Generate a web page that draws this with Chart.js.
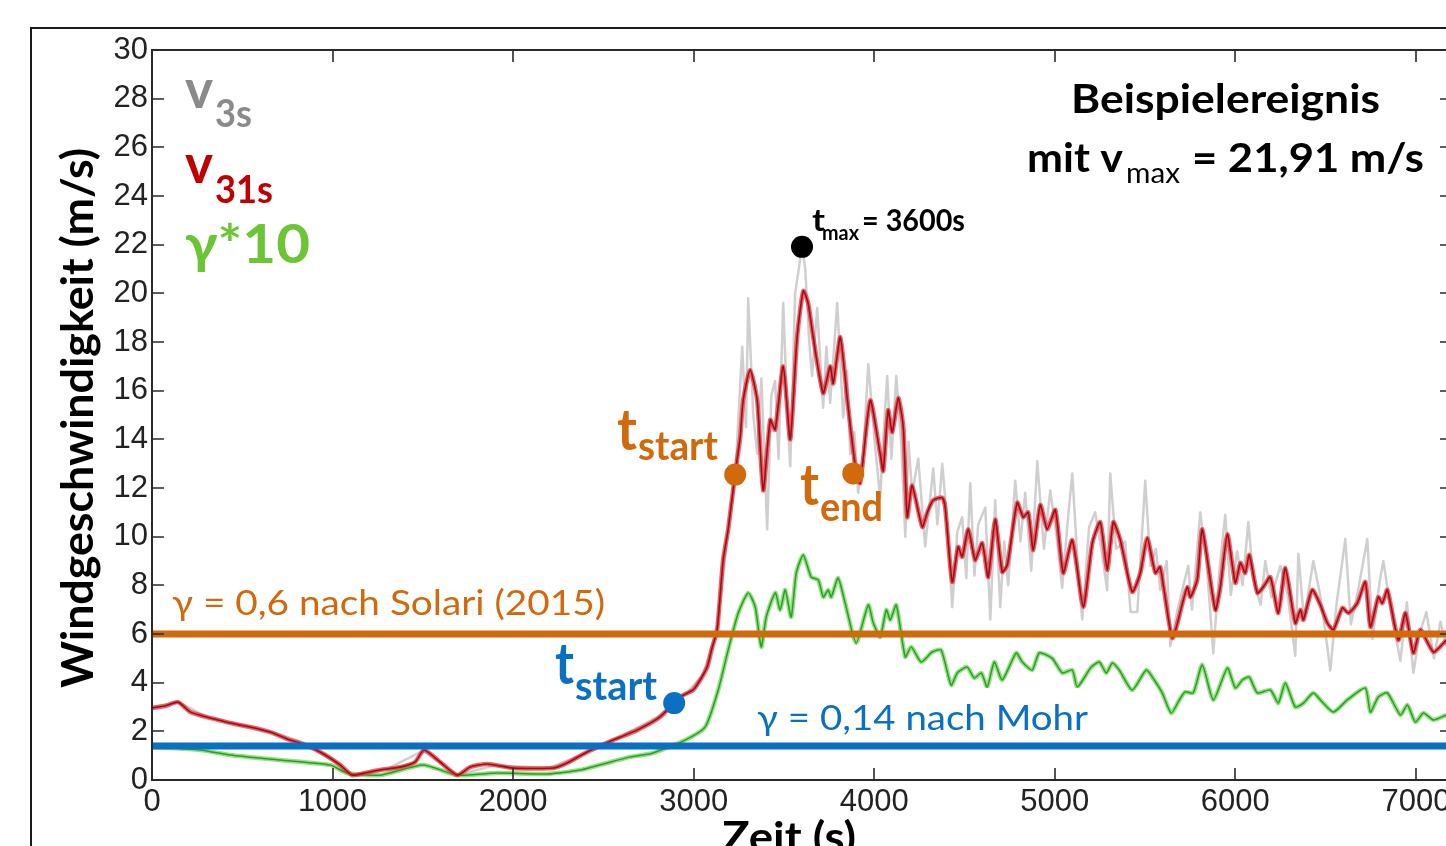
<!DOCTYPE html>
<html>
<head>
<meta charset="utf-8">
<script src="https://cdn.jsdelivr.net/npm/chart.js@4.4.1/dist/chart.umd.min.js"></script>
<style>
  html, body { margin: 0; padding: 0; background: #fff; overflow: hidden; }
  #wrap { position: relative; width: 1480px; height: 880px; }
</style>
</head>
<body>
<div id="wrap"><canvas id="windChart" width="1480" height="880"></canvas></div>
<script>
// ---- data ----
// v31s (red, 31 s mean)
const redTime = [0,72,144,211,321,460,543,654,765,820,931,1042,1108,1180,1263,1374,1457,1507,1596,1690,1762,1856,2000,2222,2299,2410,2554,2687,2814,2925,2997,3036,3075,3102,3130,3163,3191,3230,3258,3274,3313,3352,3385,3424,3451,3496,3535,3573,3607,3634,3662,3717,3756,3773,3812,3850,3895,3922,3978,4033,4050,4077,4100,4133,4161,4183,4210,4266,4294,4327,4377,4393,4432,4465,4487,4521,4559,4598,4631,4670,4709,4737,4792,4825,4853,4881,4920,4958,5003,5047,5097,5158,5208,5252,5291,5324,5363,5429,5474,5512,5557,5584,5651,5712,5734,5751,5789,5817,5889,5917,5956,6000,6028,6055,6077,6122,6155,6194,6238,6277,6332,6360,6377,6426,6471,6510,6543,6593,6626,6676,6720,6748,6792,6814,6842,6903,6942,6986,7025,7097,7169];
const redSpeed = [2.96,3.04,3.2,2.8,2.55,2.3,2.18,1.97,1.64,1.52,1.15,0.62,0.2,0.29,0.41,0.53,0.74,1.23,0.74,0.2,0.53,0.66,0.49,0.49,0.7,1.15,1.64,2.05,2.59,3.41,3.7,4.11,4.64,5.43,6.17,9.04,10.3,12.6,14.1,15.6,16.85,15.6,11.9,14.8,14.4,17.0,14.0,18.2,20.1,19.6,18.2,15.9,17.0,16.3,18.2,15.7,12.9,12.2,15.6,13.4,12.7,15.2,14.3,15.7,14.5,10.8,12.1,10.4,11.0,11.5,11.6,11.2,8.14,9.58,9.17,10.3,9.04,9.74,8.34,10.7,8.55,8.84,11.4,10.8,11.0,9.45,11.3,10.3,11.1,8.51,9.86,7.11,9.74,10.6,8.63,10.6,9.86,7.73,8.51,9.95,8.51,8.75,5.84,7.4,7.93,7.52,8.22,10.3,6.99,7.93,10.1,8.1,8.92,8.51,9.25,7.69,7.93,8.34,6.86,8.71,6.45,6.99,6.58,7.81,7.19,6.45,6.17,7.07,6.86,7.27,8.14,6.29,7.52,7.27,7.81,5.75,6.86,5.22,6.17,5.26,5.75];

// gamma * 10 (green)
const greenTime = [0,265,433,710,987,1080,1263,1501,1690,1911,2188,2371,2648,2770,2953,3064,3136,3191,3247,3302,3341,3374,3402,3452,3479,3507,3540,3568,3607,3651,3690,3718,3745,3762,3800,3839,3900,3967,3995,4033,4067,4089,4122,4172,4205,4260,4321,4371,4426,4460,4515,4554,4593,4626,4665,4709,4786,4820,4875,4914,4986,5042,5097,5125,5202,5247,5285,5319,5357,5429,5507,5551,5595,5645,5690,5722,5767,5817,5878,5956,6000,6039,6077,6122,6194,6238,6277,6332,6377,6432,6482,6543,6620,6720,6748,6792,6842,6914,6953,6997,7042,7097,7169];
const greenGamma = [1.36,1.23,1.03,0.82,0.62,0.29,0.2,0.62,0.2,0.29,0.25,0.41,0.95,1.1,1.64,2.18,3.7,5.34,6.86,7.69,7.11,5.47,6.7,7.69,6.99,7.81,6.7,8.5,9.25,8.34,8.22,7.52,7.81,7.52,8.3,7.27,5.63,7.19,6.45,5.88,6.99,6.58,7.19,5.06,5.47,4.85,5.26,5.34,3.9,4.4,4.64,4.19,4.4,3.82,4.85,4.11,5.22,4.85,4.52,5.22,5.0,4.4,4.52,3.82,4.64,4.85,4.4,4.81,4.52,3.7,4.52,4.11,3.58,2.75,3.29,3.62,3.58,4.73,3.29,4.6,3.78,4.11,4.23,3.58,3.7,3.16,3.99,3.0,3.16,3.58,3.2,2.79,3.29,3.78,2.79,3.41,3.58,2.67,3.08,2.38,2.75,2.47,2.67];

// v3s (grey, 3 s gusts)
const grayTime = [0,150,300,500,700,850,1000,1100,1300,1500,1690,1900,2200,2400,2600,2800,2950,3050,3130,3190,3230,3269,3290,3302,3330,3352,3375,3407,3430,3451,3470,3496,3520,3535,3562,3590,3601,3618,3640,3656,3684,3717,3735,3756,3795,3828,3850,3867,3890,3911,3940,3967,4005,4033,4050,4072,4095,4122,4150,4172,4190,4210,4244,4282,4327,4350,4377,4404,4432,4460,4487,4510,4532,4555,4576,4615,4643,4670,4698,4720,4742,4781,4810,4836,4870,4903,4940,4975,5010,5041,5070,5097,5130,5152,5190,5224,5260,5290,5307,5340,5390,5420,5457,5501,5530,5560,5584,5620,5640,5680,5739,5760,5806,5840,5878,5910,5944,5975,6010,6040,6072,6100,6140,6166,6200,6249,6290,6332,6349,6380,6432,6470,6500,6526,6560,6609,6640,6680,6731,6760,6800,6820,6860,6914,6950,6986,7020,7058,7100,7136,7169];
const graySpeed = [3.0,3.2,2.6,2.25,1.9,1.5,0.8,0.2,0.45,1.2,0.2,0.6,0.5,1.1,1.8,2.6,3.5,4.3,6.2,10.2,12.4,17.8,14.5,19.8,15.0,13.4,16.5,10.3,15.8,16.4,13.2,19.6,14.8,12.9,20.0,21.4,21.91,21.0,18.0,16.6,19.4,15.3,17.8,15.5,19.6,14.9,16.8,13.4,14.3,11.8,13.5,17.1,13.7,11.6,14.0,16.6,13.2,16.6,13.8,10.0,13.9,11.8,13.2,9.6,12.8,10.5,13.0,10.6,7.1,10.2,10.8,8.3,12.2,8.4,10.5,11.2,6.6,11.5,7.1,9.8,8.0,12.3,9.8,11.8,8.6,13.1,9.5,11.9,10.0,7.9,10.5,12.6,8.5,6.6,10.4,11.0,9.4,7.8,12.6,9.5,9.8,6.9,6.9,12.3,8.8,9.5,7.8,9.0,5.5,7.0,8.8,7.0,11.0,9.0,5.2,8.5,10.9,7.6,9.4,8.0,10.6,8.2,7.2,9.0,7.5,8.8,7.6,5.1,9.3,6.6,9.0,7.6,6.0,4.5,7.2,9.9,6.4,7.8,9.9,5.8,8.2,9.0,7.0,4.9,7.3,4.4,6.0,6.9,5.0,6.5,5.5];

// thresholds (gamma*10) and event markers
const solariLevel = [6, 6];
const mohrLevel = [1.4, 1.4];
const levelTime = [0, 7200];
const markerTime = [3600, 3230, 3884, 2892];
const markerSpeed = [21.91, 12.55, 12.6, 3.16];
const markerColor = ['#000000', '#d06a0c', '#d06a0c', '#0a70c2'];

const xMin = 0, xMax = 7200;
const xTickValues = [0, 1000, 2000, 3000, 4000, 5000, 6000, 7000];
const yMin = 0, yMax = 30, yStep = 2;

function zip(xs, ys) { return xs.map((x, i) => ({ x: x, y: ys[i] })); }

const FONT = 'Lato, "Open Sans", sans-serif';

// draw a text squeezed to a given width (Calibri-like proportions)
function fitText(ctx, text, x, y, width, font, color) {
  ctx.save();
  ctx.font = font;
  ctx.fillStyle = color;
  ctx.textAlign = 'left';
  ctx.textBaseline = 'alphabetic';
  const w = ctx.measureText(text).width;
  ctx.translate(x, y);
  ctx.scale(width / w, 1);
  ctx.fillText(text, 0, 0);
  ctx.restore();
}

const labels = {
  id: 'labels',
  afterDatasetsDraw(chart) {
    const ctx = chart.ctx;
    const gray = '#8a8a8a', red = '#c00000', green = '#6cc534', orange = '#d06a0c', blue = '#0a70c2';

    fitText(ctx, 'v', 185, 108, 28, 'bold 54px ' + FONT, gray);
    fitText(ctx, '3s', 215, 127, 37, 'bold 38px ' + FONT, gray);
    fitText(ctx, 'v', 185, 183, 28, 'bold 54px ' + FONT, red);
    fitText(ctx, '31s', 215, 203, 58, 'bold 38px ' + FONT, red);
    fitText(ctx, 'γ*10', 185, 263, 125, 'bold 54px ' + FONT, green);

    fitText(ctx, 'Beispielereignis', 1071, 113, 309, 'bold 40px ' + FONT, '#000');
    fitText(ctx, 'mit v', 1027, 172, 96, 'bold 40px ' + FONT, '#000');
    fitText(ctx, 'max', 1126, 183, 54, '28px ' + FONT, '#000');
    fitText(ctx, '= 21,91 m/s', 1192, 172, 232, 'bold 40px ' + FONT, '#000');

    fitText(ctx, 't', 812, 231, 13, 'bold 30px ' + FONT, '#000');
    fitText(ctx, 'max', 822, 240, 37, 'bold 21px ' + FONT, '#000');
    fitText(ctx, '= 3600s', 862, 231, 103, 'bold 30px ' + FONT, '#000');

    fitText(ctx, 't', 617, 450, 20, 'bold 58px ' + FONT, orange);
    fitText(ctx, 'start', 638, 460, 80, 'bold 40px ' + FONT, orange);
    fitText(ctx, 't', 800, 505, 19, 'bold 58px ' + FONT, orange);
    fitText(ctx, 'end', 820, 521, 63, 'bold 40px ' + FONT, orange);
    fitText(ctx, 't', 555, 684, 19, 'bold 58px ' + FONT, blue);
    fitText(ctx, 'start', 575, 700, 82, 'bold 40px ' + FONT, blue);

    fitText(ctx, 'γ = 0,6 nach Solari (2015)', 172, 615, 433, '35px ' + FONT, orange);
    ctx.save();
    ctx.fillStyle = '#fff';
    ctx.fillRect(750, 688, 342, 52);
    ctx.restore();
    fitText(ctx, 'γ = 0,14 nach Mohr', 757, 730, 331, '35px ' + FONT, blue);
  }
};

const frame = {
  id: 'frame',
  beforeDraw(chart) {
    const ctx = chart.ctx;
    ctx.save();
    ctx.fillStyle = '#fff';
    ctx.fillRect(0, 0, chart.width, chart.height);
    ctx.strokeStyle = '#1a1a1a';
    ctx.lineWidth = 2;
    ctx.strokeRect(31, 28, chart.width, chart.height);
    ctx.restore();
  },
  afterDraw(chart) {
    const ctx = chart.ctx;
    const a = chart.chartArea;
    const x = chart.scales.x, y = chart.scales.y;
    ctx.save();
    ctx.strokeStyle = '#2a2a2a';
    ctx.lineWidth = 2;
    ctx.strokeRect(a.left, a.top, a.right - a.left, a.bottom - a.top);
    ctx.lineWidth = 1.6;
    ctx.beginPath();
    y.ticks.forEach(t => {
      const py = Math.round(y.getPixelForValue(t.value));
      ctx.moveTo(a.left, py); ctx.lineTo(a.left + 12, py);
      ctx.moveTo(a.right, py); ctx.lineTo(a.right - 12, py);
    });
    x.ticks.forEach(t => {
      const px = Math.round(x.getPixelForValue(t.value));
      ctx.moveTo(px, a.bottom); ctx.lineTo(px, a.bottom - 12);
      ctx.moveTo(px, a.top); ctx.lineTo(px, a.top + 12);
    });
    ctx.stroke();

    // axis titles
    ctx.save();
    ctx.translate(93, 688);
    ctx.rotate(-Math.PI / 2);
    fitText(ctx, 'Windgeschwindigkeit (m/s)', 0, 0, 540, 'bold 44px ' + FONT, '#000');
    ctx.restore();
    fitText(ctx, 'Zeit (s)', 722, 852, 134, 'bold 42px ' + FONT, '#000');
    ctx.restore();
  }
};

const lineBase = { pointRadius: 0, fill: false, borderJoinStyle: 'round' };

new Chart(document.getElementById('windChart'), {
  type: 'line',
  data: {
    datasets: [
      { label: 'markers', data: zip(markerTime, markerSpeed), showLine: false, pointRadius: 11,
        pointBackgroundColor: markerColor, pointBorderWidth: 0, order: 0 },
      Object.assign({ label: 'Solari', data: zip(levelTime, solariLevel), borderColor: '#d06a0c', borderWidth: 7, tension: 0, order: 1 }, lineBase),
      Object.assign({ label: 'Mohr', data: zip(levelTime, mohrLevel), borderColor: '#0a70c2', borderWidth: 7, tension: 0, order: 2 }, lineBase),
      Object.assign({ label: 'v31s', data: zip(redTime, redSpeed), borderColor: '#9a1018', borderWidth: 1.6, tension: 0.2, order: 3 }, lineBase),
      Object.assign({ label: 'v31s halo', data: zip(redTime, redSpeed), borderColor: 'rgba(236,45,55,0.75)', borderWidth: 4.5, tension: 0.2, order: 4 }, lineBase),
      Object.assign({ label: 'gamma10', data: zip(greenTime, greenGamma), borderColor: '#2f9a2f', borderWidth: 1.5, tension: 0.2, order: 5 }, lineBase),
      Object.assign({ label: 'gamma10 halo', data: zip(greenTime, greenGamma), borderColor: 'rgba(100,215,70,0.7)', borderWidth: 4.5, tension: 0.2, order: 6 }, lineBase),
      Object.assign({ label: 'v3s', data: zip(grayTime, graySpeed), borderColor: 'rgba(175,175,175,0.6)', borderWidth: 2.5, tension: 0, order: 7 }, lineBase)
    ]
  },
  options: {
    responsive: false,
    animation: false,
    devicePixelRatio: 1,
    layout: { padding: { left: 0, top: 50, right: 28, bottom: 0 } },
    plugins: { legend: { display: false }, tooltip: { enabled: false } },
    scales: {
      x: {
        type: 'linear', min: xMin, max: xMax,
        grid: { display: false }, border: { display: false },
        afterBuildTicks(s) { s.ticks = xTickValues.map(v => ({ value: v })); },
        ticks: { autoSkip: false, maxRotation: 0, padding: -4, color: '#222',
                 callback: v => String(v),
                 font: { family: '"Liberation Sans", Arial, sans-serif', size: 31 } },
        afterFit(s) { s.height = 100; }
      },
      y: {
        type: 'linear', min: yMin, max: yMax,
        grid: { display: false }, border: { display: false },
        ticks: { stepSize: yStep, padding: -4, color: '#222',
                 font: { family: '"Liberation Sans", Arial, sans-serif', size: 31 } },
        afterFit(s) { s.width = 152; }
      }
    }
  },
  plugins: [frame, labels]
});
</script>
</body>
</html>
